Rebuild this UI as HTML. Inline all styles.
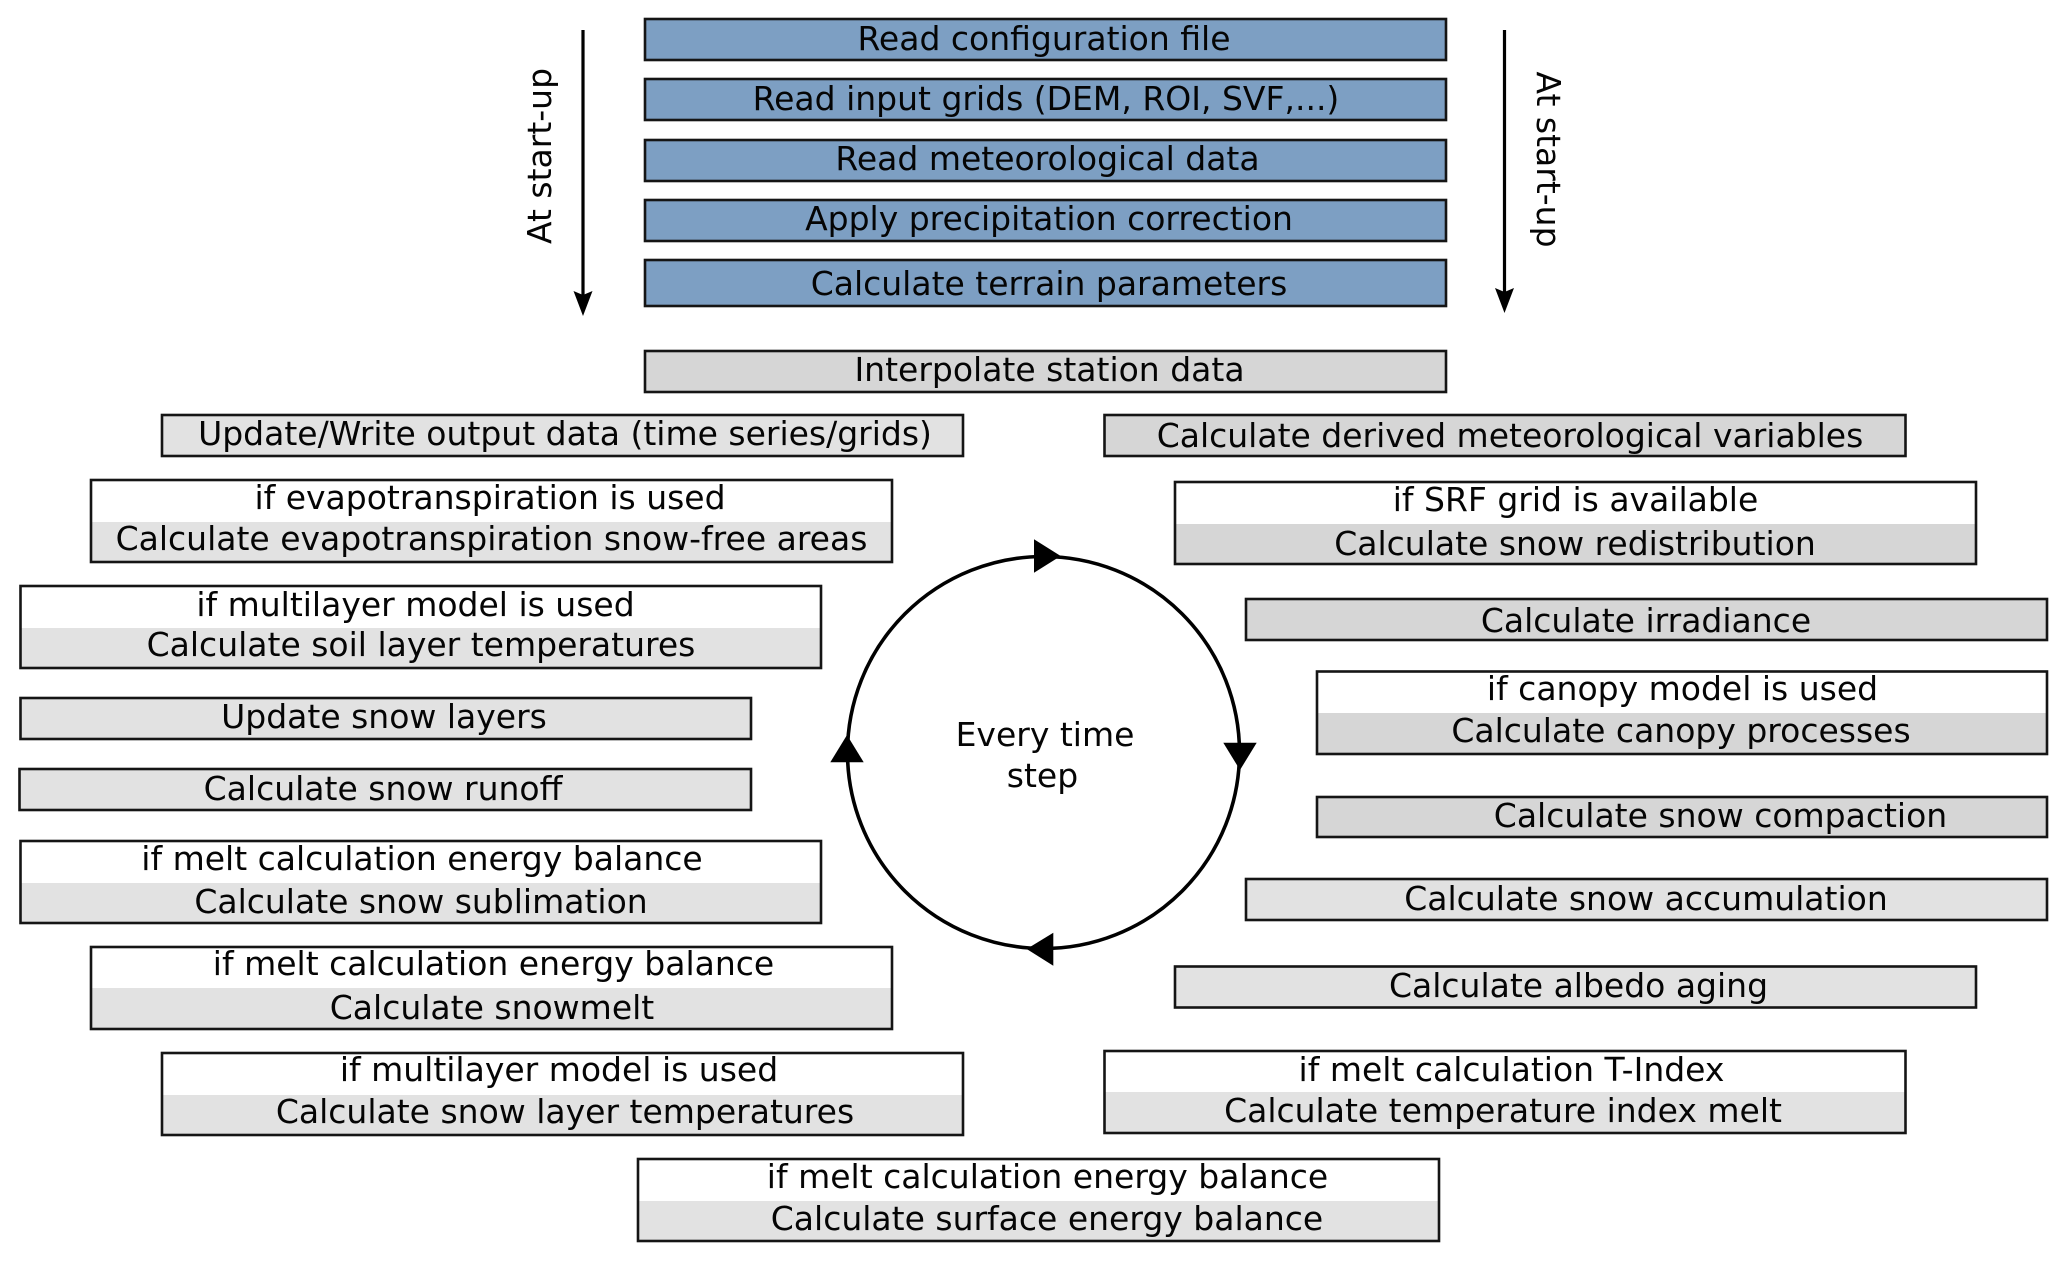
<!DOCTYPE html>
<html><head><meta charset="utf-8">
<style>
html,body{margin:0;padding:0;background:#fff;width:2067px;height:1261px;overflow:hidden}
svg{display:block}
text{font-family:"DejaVu Sans",sans-serif;font-size:33px;fill:#050505;text-anchor:middle}
.b{stroke:#151515;stroke-width:2.6;fill:none}
.blue{fill:#7d9fc3}.d{fill:#d6d6d6}.l{fill:#e2e2e2}
</style></head><body>
<svg width="2067" height="1261" viewBox="0 0 2067 1261" xmlns="http://www.w3.org/2000/svg">
<rect width="2067" height="1261" fill="#fff"/>
<!-- blue -->
<rect x="645" y="19" width="801" height="41" class="blue"/><rect x="645" y="19" width="801" height="41" class="b"/>
<rect x="645" y="79" width="801" height="41" class="blue"/><rect x="645" y="79" width="801" height="41" class="b"/>
<rect x="645" y="140" width="801" height="41" class="blue"/><rect x="645" y="140" width="801" height="41" class="b"/>
<rect x="645" y="200" width="801" height="41" class="blue"/><rect x="645" y="200" width="801" height="41" class="b"/>
<rect x="645" y="260" width="801" height="46" class="blue"/><rect x="645" y="260" width="801" height="46" class="b"/>
<rect x="645" y="351" width="801" height="41" class="d"/><rect x="645" y="351" width="801" height="41" class="b"/>
<text x="1044" y="50">Read configuration file</text>
<text x="1046" y="110">Read input grids (DEM, ROI, SVF,...)</text>
<text x="1047.5" y="170">Read meteorological data</text>
<text x="1049" y="230">Apply precipitation correction</text>
<text x="1049" y="295">Calculate terrain parameters</text>
<text x="1049.5" y="381">Interpolate station data</text>
<!-- left column -->
<rect x="162" y="415" width="801" height="41" class="l"/><rect x="162" y="415" width="801" height="41" class="b"/>
<text x="565" y="445">Update/Write output data (time series/grids)</text>
<rect x="91" y="522" width="801" height="40" class="l"/><rect x="91" y="480" width="801" height="82" class="b"/>
<text x="490" y="509">if evapotranspiration is used</text>
<text x="491.5" y="550">Calculate evapotranspiration snow-free areas</text>
<rect x="20.5" y="628" width="800.5" height="40" class="l"/><rect x="20.5" y="586" width="800.5" height="82" class="b"/>
<text x="415.5" y="616">if multilayer model is used</text>
<text x="421" y="656">Calculate soil layer temperatures</text>
<rect x="20.5" y="698" width="730.5" height="41" class="l"/><rect x="20.5" y="698" width="730.5" height="41" class="b"/>
<text x="384" y="728">Update snow layers</text>
<rect x="19.5" y="769" width="731.5" height="41" class="l"/><rect x="19.5" y="769" width="731.5" height="41" class="b"/>
<text x="383" y="800">Calculate snow runoff</text>
<rect x="20.5" y="883" width="800.5" height="40" class="l"/><rect x="20.5" y="841" width="800.5" height="82" class="b"/>
<text x="422" y="870">if melt calculation energy balance</text>
<text x="421" y="913">Calculate snow sublimation</text>
<rect x="91" y="988" width="801" height="41" class="l"/><rect x="91" y="947" width="801" height="82" class="b"/>
<text x="493.5" y="975">if melt calculation energy balance</text>
<text x="492" y="1019">Calculate snowmelt</text>
<rect x="162" y="1095" width="801" height="40" class="l"/><rect x="162" y="1053" width="801" height="82" class="b"/>
<text x="559" y="1081">if multilayer model is used</text>
<text x="565" y="1123">Calculate snow layer temperatures</text>
<rect x="638" y="1201" width="801" height="40" class="l"/><rect x="638" y="1159" width="801" height="82" class="b"/>
<text x="1047.5" y="1188">if melt calculation energy balance</text>
<text x="1047" y="1230">Calculate surface energy balance</text>
<!-- right column -->
<rect x="1104.5" y="415" width="801" height="41" class="d"/><rect x="1104.5" y="415" width="801" height="41" class="b"/>
<text x="1510" y="447">Calculate derived meteorological variables</text>
<rect x="1175" y="524" width="801" height="40" class="d"/><rect x="1175" y="482" width="801" height="82" class="b"/>
<text x="1575.5" y="511">if SRF grid is available</text>
<text x="1575" y="555">Calculate snow redistribution</text>
<rect x="1246" y="599" width="801" height="41" class="d"/><rect x="1246" y="599" width="801" height="41" class="b"/>
<text x="1646" y="632">Calculate irradiance</text>
<rect x="1317" y="713" width="730" height="41" class="d"/><rect x="1317" y="671.5" width="730" height="82.5" class="b"/>
<text x="1682.5" y="700">if canopy model is used</text>
<text x="1681" y="742">Calculate canopy processes</text>
<rect x="1317" y="797" width="730" height="40" class="d"/><rect x="1317" y="797" width="730" height="40" class="b"/>
<text x="1720.5" y="827">Calculate snow compaction</text>
<rect x="1246" y="879" width="801" height="41" class="l"/><rect x="1246" y="879" width="801" height="41" class="b"/>
<text x="1646" y="910">Calculate snow accumulation</text>
<rect x="1175" y="966.5" width="801" height="41" class="l"/><rect x="1175" y="966.5" width="801" height="41" class="b"/>
<text x="1578.5" y="997">Calculate albedo aging</text>
<rect x="1104.5" y="1092" width="801" height="41" class="l"/><rect x="1104.5" y="1051" width="801" height="82" class="b"/>
<text x="1511.5" y="1081">if melt calculation T-Index</text>
<text x="1503" y="1122">Calculate temperature index melt</text>
<!-- side arrows -->
<line x1="583" y1="30" x2="583" y2="300" stroke="#000" stroke-width="3.2"/>
<polygon points="573.5,291 583,295 592.5,291 583,316" fill="#000"/>
<line x1="1504.5" y1="30" x2="1504.5" y2="297" stroke="#000" stroke-width="3.2"/>
<polygon points="1495,288 1504.5,292 1514,288 1504.5,313" fill="#000"/>
<text transform="translate(551 156) rotate(-90)">At start-up</text>
<text transform="translate(1537 159.5) rotate(90)">At start-up</text>
<!-- cycle -->
<circle cx="1043.5" cy="752.5" r="196" fill="none" stroke="#000" stroke-width="3.6"/>
<polygon points="1034,539.3 1060.7,556 1034,572.7" fill="#000"/>
<polygon points="1223.3,742.7 1256.7,742.7 1240,770" fill="#000"/>
<polygon points="1053.3,932.7 1026.7,949 1053.3,965.7" fill="#000"/>
<polygon points="847,735 830.3,762.3 863.7,762.3" fill="#000"/>
<text x="1045" y="746">Every time</text>
<text x="1042.5" y="787">step</text>
</svg>
</body></html>
